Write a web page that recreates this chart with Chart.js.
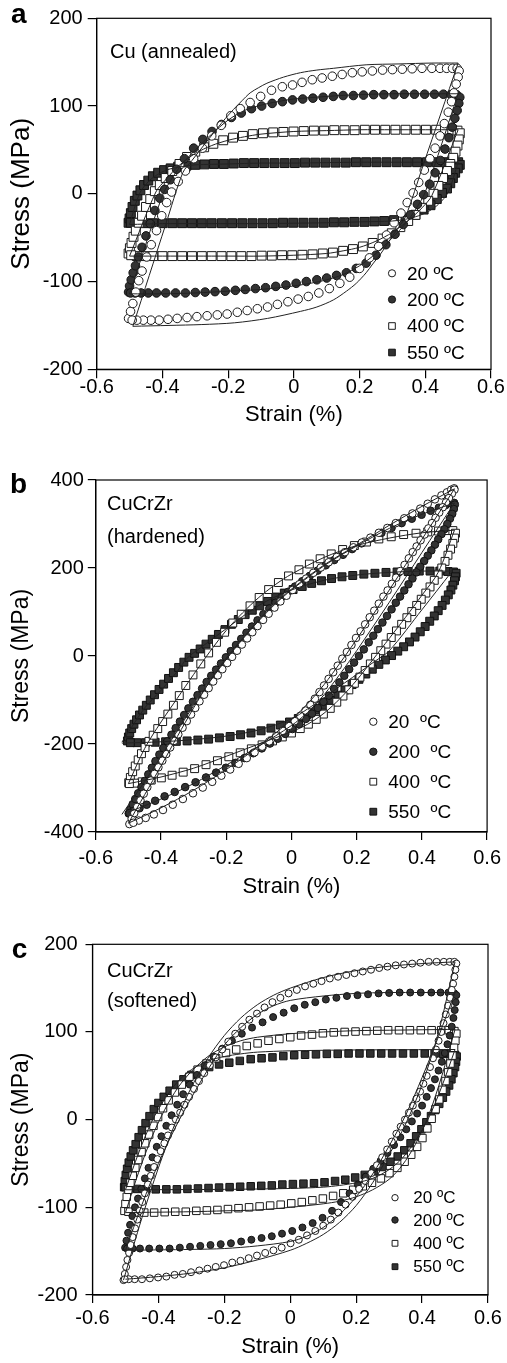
<!DOCTYPE html>
<html>
<head>
<meta charset="utf-8">
<title>Cyclic stress-strain loops</title>
<script src="https://cdn.jsdelivr.net/npm/chart.js@4.4.1/dist/chart.umd.min.js"></script>
<style>
  body { margin: 0; background: #fff; }
  canvas { position: absolute; left: 0; }
</style>
</head>
<body>
<canvas id="chartA"></canvas>
<canvas id="chartB"></canvas>
<canvas id="chartC"></canvas>
<script>
// ---- tick labels and series names ----
var xTickLabels = ['-0.6', '-0.4', '-0.2', '0', '0.2', '0.4', '0.6'];
var aYTickLabels = ['-200', '-100', '0', '100', '200'];
var bYTickLabels = ['-400', '-200', '0', '200', '400'];
var cYTickLabels = ['-200', '-100', '0', '100', '200'];
var tempNames = ['20 ºC', '200 ºC', '400 ºC', '550 ºC'];
var tempNamesB = ['20  ºC', '200  ºC', '400  ºC', '550  ºC'];

// ---- (a) Cu annealed : measured loops [strain %, stress MPa] ----
var aLoop20 = [[-0.503,-142],[-0.497,-134],[-0.49,-125],[-0.481,-112],[-0.472,-99],[-0.462,-88],[-0.448,-72],[-0.434,-58],[-0.418,-42],[-0.402,-25],[-0.387,-10],[-0.372,2],[-0.352,14],[-0.33,26],[-0.305,40],[-0.278,52],[-0.25,66],[-0.221,78],[-0.192,89],[-0.163,97],[-0.133,104],[-0.101,111],[-0.068,118],[-0.035,122],[-0.004,124],[0.025,127],[0.056,130],[0.086,132],[0.117,134],[0.147,136],[0.178,138],[0.208,139],[0.239,140],[0.27,141],[0.3,141.5],[0.33,142],[0.36,142.5],[0.39,143],[0.42,143],[0.445,143],[0.465,143],[0.483,143],[0.497,143],
  [0.503,140],[0.5,133],[0.494,125],[0.487,115],[0.48,105],[0.47,93],[0.458,80],[0.445,66],[0.43,52],[0.414,40],[0.397,27],[0.38,13],[0.363,1],[0.345,-10],[0.326,-22],[0.305,-33],[0.282,-47],[0.258,-60],[0.23,-73],[0.2,-85],[0.17,-95],[0.14,-102],[0.108,-108],[0.076,-113],[0.044,-117],[0.013,-120],[-0.018,-123],[-0.05,-126],[-0.08,-129],[-0.111,-131],[-0.142,-133],[-0.172,-135],[-0.203,-137],[-0.233,-138],[-0.264,-139],[-0.295,-140],[-0.325,-141],[-0.355,-142],[-0.383,-143],[-0.41,-144],[-0.435,-144],[-0.458,-144],[-0.478,-144],[-0.492,-144]];
var aLoop200 = [[-0.503,-112],[-0.5,-105],[-0.495,-98],[-0.489,-90],[-0.482,-82],[-0.473,-72],[-0.462,-61],[-0.45,-48],[-0.437,-34],[-0.423,-19],[-0.408,-5],[-0.393,5],[-0.376,16],[-0.357,28],[-0.333,40],[-0.305,52],[-0.277,62],[-0.249,71],[-0.22,79],[-0.19,87],[-0.16,92],[-0.129,97],[-0.098,100],[-0.066,103],[-0.035,105],[-0.004,107],[0.027,108],[0.058,109],[0.089,110],[0.12,111],[0.15,112],[0.181,112],[0.212,112.5],[0.243,113],[0.274,113],[0.305,113],[0.336,113.5],[0.367,113.5],[0.398,113.5],[0.428,113.5],[0.455,113.5],[0.478,113],[0.495,113],
  [0.505,110],[0.502,103],[0.497,95],[0.49,86],[0.482,76],[0.472,64],[0.46,51],[0.446,38],[0.43,24],[0.413,11],[0.395,-1],[0.376,-12],[0.355,-24],[0.333,-35],[0.308,-46],[0.28,-58],[0.25,-70],[0.22,-79],[0.19,-85],[0.16,-90],[0.13,-93],[0.1,-96],[0.07,-98],[0.038,-100],[0.007,-102],[-0.024,-104],[-0.055,-105.5],[-0.086,-107],[-0.117,-108],[-0.148,-109],[-0.178,-110],[-0.209,-111],[-0.24,-111.5],[-0.27,-112],[-0.3,-112.5],[-0.33,-113],[-0.36,-113],[-0.39,-113],[-0.418,-113],[-0.443,-113],[-0.465,-113],[-0.483,-113],[-0.497,-113]];
var aLoop400 = [[-0.503,-68],[-0.499,-62],[-0.494,-56],[-0.488,-49],[-0.481,-42],[-0.472,-33],[-0.462,-25],[-0.45,-15],[-0.437,-6],[-0.423,3],[-0.408,10],[-0.39,18],[-0.37,26],[-0.348,34],[-0.325,42],[-0.3,48],[-0.273,53],[-0.245,57],[-0.215,61],[-0.185,64],[-0.155,66],[-0.125,68],[-0.094,69],[-0.063,70],[-0.032,70.5],[-0.001,71],[0.03,71.5],[0.061,72],[0.092,72],[0.123,72.5],[0.154,72.5],[0.185,72.5],[0.216,73],[0.247,73],[0.278,73],[0.309,73],[0.34,73],[0.371,73],[0.402,73],[0.433,73],[0.46,73],[0.482,73],[0.498,72],
  [0.505,69],[0.502,62],[0.498,55],[0.492,48],[0.485,41],[0.476,34],[0.466,26],[0.454,18],[0.44,9],[0.425,0],[0.409,-8],[0.39,-16],[0.37,-24],[0.348,-31],[0.324,-38],[0.298,-45],[0.27,-51],[0.24,-56],[0.21,-60],[0.18,-63],[0.15,-65],[0.119,-67],[0.088,-68],[0.057,-69],[0.026,-69.5],[-0.005,-70],[-0.036,-70],[-0.067,-70.5],[-0.098,-70.5],[-0.129,-71],[-0.16,-71],[-0.19,-71],[-0.22,-71],[-0.25,-71],[-0.28,-71],[-0.31,-71],[-0.34,-71],[-0.37,-71],[-0.4,-71],[-0.428,-71],[-0.455,-71],[-0.478,-71],[-0.495,-70]];
var aLoop550 = [[-0.503,-33],[-0.5,-28],[-0.496,-22],[-0.491,-15],[-0.484,-8],[-0.476,-2],[-0.467,4],[-0.456,10],[-0.443,15],[-0.429,20],[-0.413,24],[-0.395,27],[-0.375,29],[-0.352,31],[-0.327,32],[-0.3,33],[-0.272,33.5],[-0.243,34],[-0.213,34],[-0.183,34.5],[-0.152,35],[-0.121,35],[-0.09,35],[-0.059,35],[-0.028,35],[0.003,35],[0.034,35.5],[0.065,35.5],[0.096,35.5],[0.127,35.5],[0.158,35.5],[0.189,36],[0.22,36],[0.251,36],[0.282,36],[0.313,36],[0.344,36],[0.375,36],[0.405,36],[0.435,36],[0.462,36],[0.485,36],[0.5,36],
  [0.505,33],[0.499,29],[0.491,24],[0.484,18],[0.476,12],[0.466,6],[0.451,1],[0.435,-6],[0.416,-13],[0.395,-18],[0.37,-24],[0.34,-28],[0.305,-30],[0.275,-31],[0.245,-31.5],[0.215,-32],[0.184,-32],[0.153,-32.5],[0.122,-32.5],[0.091,-33],[0.06,-33],[0.029,-33],[-0.002,-33],[-0.033,-33],[-0.064,-33.5],[-0.095,-33.5],[-0.126,-33.5],[-0.157,-33.5],[-0.188,-33.5],[-0.219,-33.5],[-0.25,-33.5],[-0.28,-33.5],[-0.31,-33.5],[-0.34,-33.5],[-0.37,-33.5],[-0.4,-33.5],[-0.428,-33.5],[-0.455,-33.5],[-0.478,-33],[-0.496,-33]];

// (a) model curves, loading and unloading branches
var aFit20Up = [[-0.49,-151],[-0.44,-93],[-0.39,-35],[-0.338,24],[-0.31,38],[-0.285,50],[-0.26,62],[-0.234,74],[-0.208,86],[-0.184,96],[-0.158,106],[-0.133,115],[-0.107,121],[-0.082,126],[-0.031,133],[0.02,138],[0.07,141],[0.12,143],[0.22,147],[0.32,148],[0.42,149],[0.5,149]];
var aFit20Dn = [[0.5,149],[0.447,91],[0.393,32],[0.34,-26],[0.315,-40],[0.29,-54],[0.265,-68],[0.24,-80],[0.22,-90],[0.19,-102],[0.16,-111],[0.12,-121],[0.07,-129],[0.02,-134],[-0.08,-142],[-0.18,-147],[-0.28,-149],[-0.38,-150],[-0.49,-151]];
var aFit200Up = [[-0.5,-114],[-0.4,-2],[-0.37,18],[-0.34,34],[-0.3,50],[-0.25,68],[-0.2,84],[-0.15,95],[-0.1,101],[-0.05,105],[0,108],[0.1,111],[0.2,113],[0.3,114],[0.4,114],[0.5,114]];
var aFit200Dn = [[0.5,114],[0.4,2],[0.37,-18],[0.34,-34],[0.3,-50],[0.25,-68],[0.2,-82],[0.15,-92],[0.1,-98],[0.05,-102],[0,-105],[-0.1,-109],[-0.2,-111],[-0.3,-113],[-0.4,-114],[-0.5,-114]];
var aFit400Up = [[-0.5,-71],[-0.42,2],[-0.39,16],[-0.35,32],[-0.3,46],[-0.25,55],[-0.2,61],[-0.15,65],[-0.1,68],[0,71],[0.1,72],[0.2,73],[0.3,73],[0.4,73],[0.5,73]];
var aFit400Dn = [[0.5,73],[0.42,-2],[0.39,-16],[0.35,-30],[0.3,-44],[0.25,-54],[0.2,-61],[0.15,-65],[0.1,-68],[0,-70],[-0.1,-71],[-0.2,-71],[-0.3,-71],[-0.4,-71],[-0.5,-71]];
var aFit550Up = [[-0.5,-35],[-0.47,0],[-0.44,15],[-0.41,23],[-0.38,28],[-0.34,31],[-0.3,33],[-0.2,34],[-0.1,35],[0,35],[0.1,35.5],[0.2,36],[0.3,36],[0.4,36],[0.5,36]];
var aFit550Dn = [[0.5,36],[0.47,2],[0.44,-12],[0.41,-20],[0.38,-25],[0.34,-29],[0.3,-31],[0.2,-32],[0.1,-33],[0,-33.5],[-0.1,-34],[-0.2,-34],[-0.3,-34],[-0.4,-34],[-0.5,-35]];

// ---- (b) CuCrZr hardened : measured loops ----
var bLoop20 = [[-0.497,-382],[-0.49,-370],[-0.482,-357],[-0.473,-343],[-0.463,-328],[-0.453,-313],[-0.442,-298],[-0.431,-283],[-0.42,-268],[-0.408,-253],[-0.396,-238],[-0.384,-223],[-0.372,-208],[-0.36,-193],[-0.347,-178],[-0.334,-163],[-0.321,-148],[-0.308,-133],[-0.295,-118],[-0.282,-103],[-0.268,-88],[-0.254,-73],[-0.24,-58],[-0.226,-44],[-0.212,-30],[-0.197,-16],[-0.182,-2],[-0.167,12],[-0.152,26],[-0.136,40],[-0.12,54],[-0.104,68],[-0.087,82],[-0.07,96],[-0.052,110],[-0.034,124],[-0.015,137],[0.004,150],[0.024,163],[0.045,176],[0.067,189],[0.09,201],[0.114,213],[0.139,225],[0.164,236],[0.19,247],[0.216,258],[0.242,269],[0.268,280],[0.294,291],[0.32,302],[0.346,313],[0.371,324],[0.395,335],[0.418,346],[0.44,356],[0.46,365],[0.477,372],[0.49,378],[0.499,381],
  [0.5,378],[0.492,369],[0.483,359],[0.474,349],[0.464,338],[0.453,326],[0.442,314],[0.431,302],[0.42,290],[0.408,276],[0.396,263],[0.384,249],[0.372,236],[0.36,222],[0.347,207],[0.334,193],[0.321,178],[0.308,164],[0.295,149],[0.282,135],[0.268,119],[0.254,103],[0.24,88],[0.226,72],[0.212,56],[0.198,41],[0.184,25],[0.17,9],[0.156,-6],[0.142,-22],[0.128,-37],[0.114,-52],[0.1,-67],[0.086,-82],[0.072,-97],[0.058,-111],[0.043,-124],[0.027,-136],[0.01,-148],[-0.008,-159],[-0.027,-170],[-0.047,-182],[-0.068,-194],[-0.09,-206],[-0.113,-219],[-0.137,-232],[-0.162,-245],[-0.188,-258],[-0.215,-272],[-0.243,-286],[-0.272,-299],[-0.302,-312],[-0.333,-325],[-0.364,-338],[-0.394,-350],[-0.422,-360],[-0.447,-368],[-0.468,-374],[-0.485,-379]];
var bLoop200 = [[-0.499,-358],[-0.494,-348],[-0.487,-337],[-0.479,-325],[-0.47,-312],[-0.46,-298],[-0.45,-284],[-0.439,-269],[-0.428,-254],[-0.417,-239],[-0.405,-224],[-0.393,-209],[-0.381,-194],[-0.368,-179],[-0.355,-164],[-0.342,-149],[-0.329,-134],[-0.316,-119],[-0.302,-104],[-0.288,-89],[-0.274,-74],[-0.26,-59],[-0.246,-45],[-0.231,-31],[-0.216,-17],[-0.201,-3],[-0.186,11],[-0.17,25],[-0.154,39],[-0.138,53],[-0.121,67],[-0.104,81],[-0.086,95],[-0.068,108],[-0.049,121],[-0.03,134],[-0.01,146],[0.011,158],[0.033,170],[0.056,182],[0.08,194],[0.105,206],[0.131,218],[0.158,230],[0.186,243],[0.215,256],[0.245,268],[0.276,280],[0.307,291],[0.338,302],[0.369,312],[0.399,321],[0.427,330],[0.452,337],[0.473,343],[0.489,347],[0.499,348],
  [0.501,344],[0.498,334],[0.493,323],[0.486,312],[0.478,300],[0.469,288],[0.46,277],[0.45,265],[0.44,253],[0.429,240],[0.418,228],[0.407,216],[0.395,203],[0.383,190],[0.371,176],[0.359,163],[0.346,149],[0.333,135],[0.32,121],[0.307,106],[0.293,91],[0.279,76],[0.265,61],[0.251,46],[0.237,31],[0.222,15],[0.207,0],[0.192,-15],[0.177,-30],[0.162,-45],[0.147,-60],[0.131,-75],[0.115,-90],[0.098,-104],[0.081,-118],[0.063,-131],[0.044,-143],[0.024,-155],[0.003,-166],[-0.019,-177],[-0.042,-188],[-0.066,-199],[-0.091,-210],[-0.117,-221],[-0.144,-232],[-0.172,-243],[-0.201,-254],[-0.231,-265],[-0.262,-276],[-0.294,-287],[-0.326,-298],[-0.358,-309],[-0.389,-319],[-0.418,-329],[-0.444,-338],[-0.466,-346],[-0.484,-352],[-0.497,-357]];
var bLoop400 = [[-0.499,-288],[-0.494,-276],[-0.487,-263],[-0.479,-250],[-0.47,-236],[-0.46,-222],[-0.449,-208],[-0.437,-194],[-0.424,-180],[-0.41,-165],[-0.395,-149],[-0.379,-132],[-0.362,-112],[-0.344,-90],[-0.324,-67],[-0.302,-43],[-0.278,-18],[-0.254,7],[-0.23,31],[-0.205,54],[-0.18,75],[-0.154,95],[-0.127,114],[-0.099,133],[-0.07,151],[-0.04,167],[-0.009,182],[0.023,196],[0.055,209],[0.088,221],[0.122,232],[0.157,242],[0.193,251],[0.23,259],[0.268,266],[0.306,271],[0.344,276],[0.382,279],[0.418,282],[0.451,284],[0.477,285],[0.495,285],
  [0.503,279],[0.5,268],[0.495,256],[0.488,243],[0.48,229],[0.471,215],[0.461,200],[0.45,186],[0.438,172],[0.425,157],[0.412,143],[0.398,129],[0.384,115],[0.369,101],[0.354,87],[0.338,72],[0.322,57],[0.306,42],[0.29,27],[0.274,12],[0.258,-3],[0.242,-18],[0.226,-33],[0.21,-48],[0.193,-62],[0.176,-77],[0.158,-91],[0.139,-105],[0.119,-119],[0.098,-132],[0.076,-144],[0.052,-155],[0.027,-165],[0,-175],[-0.028,-184],[-0.058,-193],[-0.09,-202],[-0.123,-211],[-0.157,-220],[-0.192,-229],[-0.227,-238],[-0.262,-247],[-0.297,-256],[-0.332,-264],[-0.366,-271],[-0.399,-277],[-0.43,-282],[-0.458,-286],[-0.481,-289],[-0.497,-290]];
var bLoop550 = [[-0.503,-193],[-0.5,-184],[-0.496,-175],[-0.49,-165],[-0.483,-155],[-0.475,-145],[-0.466,-134],[-0.456,-123],[-0.445,-112],[-0.433,-100],[-0.42,-88],[-0.406,-76],[-0.392,-64],[-0.377,-51],[-0.362,-38],[-0.346,-26],[-0.33,-14],[-0.314,-3],[-0.297,6],[-0.28,16],[-0.262,27],[-0.243,38],[-0.224,49],[-0.204,60],[-0.184,72],[-0.163,83],[-0.142,94],[-0.12,104],[-0.097,114],[-0.073,124],[-0.048,134],[-0.022,143],[0.005,151],[0.033,158],[0.062,165],[0.092,171],[0.123,176],[0.155,180],[0.188,183],[0.222,186],[0.256,188],[0.29,190],[0.324,191],[0.358,192],[0.392,193],[0.425,193],[0.455,193],[0.48,192],[0.497,191],
  [0.505,188],[0.503,180],[0.5,171],[0.495,161],[0.489,150],[0.481,139],[0.472,127],[0.462,115],[0.45,103],[0.438,91],[0.424,79],[0.41,67],[0.395,55],[0.379,43],[0.362,32],[0.344,21],[0.326,11],[0.307,1],[0.288,-9],[0.268,-19],[0.248,-30],[0.228,-41],[0.207,-53],[0.186,-65],[0.164,-77],[0.142,-89],[0.119,-101],[0.096,-112],[0.072,-123],[0.047,-133],[0.021,-142],[-0.006,-150],[-0.034,-157],[-0.063,-164],[-0.093,-170],[-0.124,-175],[-0.156,-179],[-0.188,-183],[-0.221,-186],[-0.254,-189],[-0.287,-191],[-0.32,-193],[-0.353,-194],[-0.386,-195],[-0.418,-196],[-0.448,-197],[-0.474,-197],[-0.494,-197]];

// (b) model curves
var bFit20Up = [[-0.5,-380],[-0.45,-315],[-0.4,-250],[-0.35,-183],[-0.3,-118],[-0.25,-57],[-0.2,-5],[-0.15,40],[-0.1,82],[-0.05,120],[0,152],[0.1,207],[0.2,252],[0.3,297],[0.4,340],[0.5,380]];
var bFit20Dn = [[0.5,380],[0.4,265],[0.3,150],[0.2,38],[0.15,-15],[0.1,-65],[0.05,-108],[0,-145],[-0.1,-205],[-0.2,-258],[-0.3,-305],[-0.4,-345],[-0.5,-380]];
var bFit200Up = [[-0.52,-360],[-0.45,-285],[-0.4,-228],[-0.35,-170],[-0.3,-113],[-0.25,-58],[-0.2,-8],[-0.15,38],[-0.1,80],[-0.05,118],[0,150],[0.1,205],[0.2,250],[0.3,290],[0.4,322],[0.5,348]];
var bFit200Dn = [[0.5,348],[0.4,235],[0.3,122],[0.2,12],[0.15,-40],[0.1,-88],[0.05,-128],[0,-158],[-0.1,-205],[-0.2,-248],[-0.3,-290],[-0.4,-325],[-0.5,-355]];
var bFit400Up = [[-0.5,-290],[-0.45,-210],[-0.4,-150],[-0.35,-96],[-0.3,-42],[-0.25,10],[-0.2,58],[-0.15,98],[-0.1,133],[-0.05,162],[0,186],[0.1,224],[0.2,251],[0.3,268],[0.4,280],[0.5,286]];
var bFit400Dn = [[0.5,286],[0.45,190],[0.4,138],[0.35,88],[0.3,40],[0.25,-8],[0.2,-55],[0.15,-96],[0.1,-130],[0.05,-155],[0,-172],[-0.1,-200],[-0.2,-228],[-0.3,-255],[-0.4,-275],[-0.5,-290]];
var bFit550Up = [[-0.52,-196],[-0.45,-118],[-0.4,-78],[-0.35,-35],[-0.32,-5],[-0.28,18],[-0.2,62],[-0.1,115],[0,150],[0.1,172],[0.2,184],[0.3,190],[0.4,193],[0.49,193]];
var bFit550Dn = [[0.49,190],[0.4,105],[0.3,12],[0.25,-15],[0.2,-42],[0.15,-68],[0.1,-95],[0.05,-120],[0,-143],[-0.1,-168],[-0.2,-182],[-0.3,-190],[-0.4,-195],[-0.52,-198]];

// ---- (c) CuCrZr softened : measured loops ----
var cLoop20 = [[-0.506,-183],[-0.502,-176],[-0.498,-168],[-0.494,-160],[-0.489,-152],[-0.484,-143],[-0.478,-134],[-0.471,-124],[-0.464,-114],[-0.457,-104],[-0.449,-94],[-0.441,-84],[-0.432,-74],[-0.423,-64],[-0.413,-54],[-0.403,-45],[-0.393,-36],[-0.382,-27],[-0.371,-18],[-0.359,-9],[-0.347,0],[-0.334,8],[-0.321,17],[-0.307,26],[-0.292,35],[-0.277,44],[-0.261,53],[-0.244,62],[-0.226,71],[-0.207,80],[-0.188,89],[-0.167,98],[-0.146,106],[-0.124,114],[-0.101,121],[-0.078,128],[-0.054,134],[-0.03,139],[-0.005,144],[0.02,148],[0.045,152],[0.07,155],[0.095,158],[0.12,161],[0.145,163],[0.17,165],[0.195,167],[0.22,169],[0.245,171],[0.27,173],[0.295,174.5],[0.32,176],[0.345,177],[0.37,178],[0.395,179],[0.42,180],[0.444,180],[0.466,180],[0.484,180],[0.498,180],
  [0.504,178],[0.501,171],[0.498,163],[0.494,155],[0.49,148],[0.485,139],[0.479,130],[0.472,120],[0.465,110],[0.458,100],[0.45,90],[0.442,80],[0.433,70],[0.424,60],[0.414,50],[0.404,41],[0.394,32],[0.383,24],[0.372,16],[0.36,8],[0.348,0],[0.335,-8],[0.322,-16],[0.308,-25],[0.294,-34],[0.279,-43],[0.263,-52],[0.246,-61],[0.228,-70],[0.209,-79],[0.189,-88],[0.168,-97],[0.146,-106],[0.123,-114],[0.1,-121],[0.076,-127],[0.051,-132],[0.026,-137],[0.001,-141],[-0.026,-146],[-0.051,-149],[-0.076,-152],[-0.101,-155],[-0.126,-158],[-0.151,-161],[-0.176,-163],[-0.201,-166],[-0.226,-168],[-0.251,-170],[-0.276,-172],[-0.301,-174],[-0.326,-176],[-0.351,-177],[-0.376,-179],[-0.401,-180],[-0.426,-181],[-0.45,-182],[-0.472,-182],[-0.49,-182],[-0.502,-182]];
var cLoop200 = [[-0.501,-146],[-0.497,-138],[-0.492,-129],[-0.486,-120],[-0.479,-110],[-0.471,-100],[-0.462,-90],[-0.452,-79],[-0.441,-67],[-0.43,-55],[-0.418,-43],[-0.405,-31],[-0.391,-19],[-0.376,-7],[-0.36,5],[-0.343,17],[-0.325,29],[-0.305,40],[-0.283,51],[-0.259,62],[-0.233,72],[-0.206,81],[-0.177,90],[-0.147,98],[-0.116,105],[-0.084,111],[-0.052,117],[-0.02,122],[0.012,127],[0.044,131],[0.076,134],[0.108,137],[0.14,139],[0.172,141],[0.204,142],[0.236,143],[0.268,144],[0.3,144.5],[0.332,145],[0.364,145],[0.396,145],[0.428,145],[0.456,145],[0.48,145],[0.498,144],
  [0.504,142],[0.502,134],[0.499,125],[0.495,116],[0.49,106],[0.484,96],[0.477,86],[0.469,76],[0.46,66],[0.45,56],[0.439,46],[0.427,36],[0.414,26],[0.4,16],[0.385,7],[0.369,-2],[0.352,-11],[0.334,-20],[0.315,-29],[0.295,-38],[0.274,-47],[0.252,-56],[0.229,-65],[0.205,-74],[0.18,-84],[0.154,-94],[0.127,-104],[0.098,-112],[0.068,-118],[0.037,-123],[0.006,-127],[-0.025,-130],[-0.056,-133],[-0.087,-135],[-0.118,-137],[-0.149,-139],[-0.18,-141],[-0.211,-142],[-0.242,-143],[-0.273,-144],[-0.304,-145],[-0.335,-146],[-0.366,-147],[-0.397,-147],[-0.428,-147],[-0.456,-147],[-0.478,-147],[-0.495,-147]];
var cLoop400 = [[-0.503,-104],[-0.5,-96],[-0.496,-88],[-0.491,-80],[-0.485,-72],[-0.478,-64],[-0.47,-55],[-0.461,-46],[-0.451,-37],[-0.44,-27],[-0.428,-17],[-0.415,-7],[-0.401,3],[-0.386,13],[-0.369,22],[-0.35,31],[-0.329,40],[-0.306,49],[-0.281,57],[-0.254,64],[-0.225,70],[-0.195,76],[-0.164,80],[-0.132,84],[-0.099,87],[-0.066,90],[-0.033,92],[0,94],[0.033,96],[0.066,97],[0.099,98.5],[0.132,99.5],[0.165,100],[0.198,100.5],[0.231,101],[0.264,101.5],[0.297,102],[0.33,102],[0.363,102],[0.396,102],[0.429,102],[0.458,102],[0.481,102],[0.498,101],
  [0.504,98],[0.501,90],[0.497,82],[0.492,73],[0.486,64],[0.479,54],[0.471,44],[0.462,34],[0.452,23],[0.441,12],[0.429,1],[0.416,-10],[0.401,-21],[0.385,-31],[0.367,-40],[0.347,-48],[0.325,-55],[0.301,-61],[0.275,-67],[0.248,-72],[0.22,-76],[0.191,-80],[0.161,-84],[0.13,-87],[0.099,-90],[0.067,-92],[0.035,-94],[0.003,-95.5],[-0.029,-97],[-0.061,-98],[-0.093,-99],[-0.125,-100],[-0.157,-101],[-0.189,-102],[-0.221,-103],[-0.253,-103.5],[-0.285,-104],[-0.317,-105],[-0.349,-105],[-0.381,-105.5],[-0.413,-106],[-0.443,-106],[-0.47,-106],[-0.491,-105]];
var cLoop550 = [[-0.504,-77],[-0.502,-70],[-0.499,-63],[-0.495,-56],[-0.49,-49],[-0.484,-42],[-0.477,-35],[-0.469,-28],[-0.46,-20],[-0.45,-12],[-0.439,-4],[-0.427,4],[-0.414,12],[-0.4,19],[-0.384,26],[-0.366,33],[-0.346,40],[-0.324,46],[-0.3,51],[-0.274,56],[-0.246,60],[-0.216,63],[-0.185,65],[-0.153,67],[-0.12,69],[-0.087,70],[-0.054,71],[-0.021,72.5],[0.012,73.5],[0.045,74],[0.078,74.5],[0.111,75],[0.144,75],[0.177,75.5],[0.21,75.5],[0.243,75.5],[0.276,75.5],[0.309,75.5],[0.342,75.5],[0.375,75.5],[0.408,75.5],[0.438,75.5],[0.464,75],[0.485,75],[0.5,74],
  [0.505,72],[0.503,66],[0.5,60],[0.495,53],[0.489,46],[0.482,39],[0.473,32],[0.463,25],[0.452,18],[0.44,11],[0.427,4],[0.413,-3],[0.398,-11],[0.382,-19],[0.365,-27],[0.346,-35],[0.326,-42],[0.304,-48],[0.28,-54],[0.254,-59],[0.226,-63],[0.197,-66],[0.167,-68.5],[0.136,-70],[0.104,-71.5],[0.072,-72.5],[0.04,-73],[0.008,-73.5],[-0.024,-74],[-0.056,-75],[-0.088,-75.5],[-0.12,-76],[-0.152,-76.5],[-0.184,-77],[-0.216,-77.5],[-0.248,-78],[-0.28,-78.5],[-0.312,-79],[-0.344,-79.5],[-0.376,-79.5],[-0.408,-79.5],[-0.438,-79.5],[-0.465,-79],[-0.486,-78],[-0.5,-77]];

// (c) model curves
var cFit20Up = [[-0.506,-183],[-0.45,-112],[-0.4,-55],[-0.35,-5],[-0.3,37],[-0.25,70],[-0.2,96],[-0.15,116],[-0.1,131],[-0.05,142],[0,150],[0.1,162],[0.2,170],[0.3,175],[0.4,178],[0.5,180]];
var cFit20Dn = [[0.5,180],[0.45,100],[0.4,40],[0.35,-5],[0.3,-40],[0.25,-72],[0.2,-98],[0.15,-117],[0.1,-131],[0.05,-141],[0,-149],[-0.1,-160],[-0.2,-169],[-0.3,-175],[-0.4,-179],[-0.5,-182]];
var cFit200Up = [[-0.5,-149],[-0.45,-97],[-0.4,-50],[-0.35,-10],[-0.3,25],[-0.25,57],[-0.2,85],[-0.15,105],[-0.1,120],[-0.05,130],[0,136],[0.1,141],[0.2,144],[0.3,145],[0.4,145],[0.5,145]];
var cFit200Dn = [[0.5,145],[0.45,95],[0.4,48],[0.35,5],[0.3,-30],[0.25,-62],[0.2,-88],[0.15,-108],[0.1,-123],[0.05,-133],[0,-139],[-0.1,-144],[-0.2,-147],[-0.3,-148],[-0.5,-149]];
var cFit400Up = [[-0.5,-106],[-0.46,-60],[-0.42,-20],[-0.38,12],[-0.34,37],[-0.3,55],[-0.25,72],[-0.2,83],[-0.15,90],[-0.1,94],[0,98],[0.1,100],[0.2,101.5],[0.3,102],[0.4,102.5],[0.5,103]];
var cFit400Dn = [[0.5,103],[0.46,50],[0.42,5],[0.38,-28],[0.34,-52],[0.3,-68],[0.25,-80],[0.2,-88],[0.15,-93],[0.1,-96],[0,-100],[-0.1,-103],[-0.2,-104],[-0.3,-105],[-0.5,-106]];
var cFit550Up = [[-0.5,-80],[-0.46,-38],[-0.42,-2],[-0.38,24],[-0.34,44],[-0.3,57],[-0.25,67],[-0.2,72],[-0.15,75],[-0.1,77],[0,78.5],[0.2,79.5],[0.5,80]];
var cFit550Dn = [[0.5,80],[0.46,38],[0.42,2],[0.38,-24],[0.34,-44],[0.3,-57],[0.25,-67],[0.2,-72],[0.15,-75],[0.1,-77],[0,-78.5],[-0.2,-79.5],[-0.5,-80]];

// marker look for 20, 200, 400, 550 C
var markerStyles = [
  { style: 'circle', fill: '#ffffff', stroke: '#1a1a1a' },
  { style: 'circle', fill: '#333333', stroke: '#111111' },
  { style: 'rect', fill: '#ffffff', stroke: '#1a1a1a' },
  { style: 'rect', fill: '#333333', stroke: '#111111' }
];

Chart.defaults.font.family = '"Liberation Sans", Arial, Helvetica, sans-serif';
Chart.defaults.color = '#000';

function drawMarker(ctx, st, x, y, r) {
  ctx.beginPath();
  if (st.style === 'circle') ctx.arc(x, y, r, 0, Math.PI * 2);
  else ctx.rect(x - r, y - r, 2 * r, 2 * r);
  ctx.fillStyle = st.fill;
  ctx.fill();
  ctx.lineWidth = 1;
  ctx.strokeStyle = st.stroke;
  ctx.stroke();
}

// frame, panel letter, notes and legend
var panelDecor = {
  id: 'panelDecor',
  afterDraw: function (chart, args, o) {
    var ctx = chart.ctx, a = chart.chartArea;
    ctx.save();
    ctx.strokeStyle = '#000';
    ctx.lineWidth = 1.2;
    ctx.strokeRect(a.left, a.top, a.right - a.left, a.bottom - a.top);

    ctx.fillStyle = '#000';
    ctx.textBaseline = 'alphabetic';
    ctx.textAlign = 'left';
    ctx.font = 'bold 28px "Liberation Sans", Arial, sans-serif';
    ctx.fillText(o.letter, o.letterX, o.letterY - o.top);

    ctx.font = '20px "Liberation Sans", Arial, sans-serif';
    o.notes.forEach(function (n) { ctx.fillText(n.text, n.x, n.y - o.top); });

    ctx.font = o.legendFont + 'px "Liberation Sans", Arial, sans-serif';
    ctx.textBaseline = 'middle';
    o.legendRows.forEach(function (ry, i) {
      var st = markerStyles[i];
      drawMarker(ctx, st, o.legendX, ry - o.top, st.style === 'circle' ? o.legendR : o.legendR - 0.3);
      ctx.fillStyle = '#000';
      ctx.fillText(o.names[i], o.legendTextX, ry - o.top + 1);
    });
    ctx.restore();
  }
};

function makeChart(p) {
  var canvas = document.getElementById(p.id);
  canvas.width = 507;
  canvas.height = p.height;
  canvas.style.top = p.top + 'px';
  canvas.style.width = '507px';
  canvas.style.height = p.height + 'px';

  var sets = [];
  p.fits.forEach(function (f) {
    sets.push({ data: f, showLine: true, pointRadius: 0, borderColor: '#222', borderWidth: 1,
      tension: 0.3, fill: false, order: 0 });
  });
  p.loops.forEach(function (loop, i) {
    var st = markerStyles[i];
    sets.push({ label: p.names[i], data: loop, showLine: false, pointStyle: st.style,
      pointRadius: st.style === 'circle' ? p.circleR : p.rectR,
      pointBackgroundColor: st.fill, pointBorderColor: st.stroke, pointBorderWidth: 1,
      order: 1 + i });
  });

  new Chart(canvas, {
    type: 'scatter',
    data: { datasets: sets },
    plugins: [panelDecor],
    options: {
      responsive: false,
      animation: false,
      events: [],
      layout: { padding: { left: 0, right: 507 - p.right, top: p.plotTop - p.top, bottom: 0 } },
      plugins: {
        legend: { display: false },
        tooltip: { enabled: false },
        panelDecor: p.decor
      },
      scales: {
        x: {
          type: 'linear', min: -0.6, max: 0.6,
          afterFit: function (s) { s.height = p.top + p.height - p.plotBottom; },
          ticks: { stepSize: 0.2, autoSkip: false, maxRotation: 0, padding: p.xTickPad,
            font: { size: 20 }, color: '#000',
            callback: function (v) { return xTickLabels[Math.round((v + 0.6) / 0.2)]; } },
          grid: { drawOnChartArea: false, drawTicks: true, tickLength: p.xTickLen, color: '#000', lineWidth: 1.2 },
          border: { display: true, color: '#000', width: 1.2 },
          title: { display: true, text: 'Strain (%)', font: { size: 22 }, color: '#000',
            padding: { top: 0, bottom: p.xTitlePad } }
        },
        y: {
          type: 'linear', min: p.yMin, max: p.yMax,
          afterFit: function (s) { s.width = p.left; },
          ticks: { stepSize: p.yStep, autoSkip: false, padding: p.yTickPad, font: { size: 20 }, color: '#000',
            callback: function (v) { return p.yLabels[Math.round((v - p.yMin) / p.yStep)]; } },
          grid: { drawOnChartArea: false, drawTicks: true, tickLength: p.yTickLen, color: '#000', lineWidth: 1.2 },
          border: { display: true, color: '#000', width: 1.2 },
          title: { display: true, text: 'Stress (MPa)', font: { size: p.yTitleSize }, color: '#000',
            padding: { top: p.yTitlePad, bottom: 0 } }
        }
      }
    }
  });
}

makeChart({
  id: 'chartA', top: 0, height: 440, left: 96.7, right: 491, plotTop: 18.3, plotBottom: 369.3,
  yMin: -200, yMax: 200, yStep: 100, yLabels: aYTickLabels,
  xTickLen: 9, xTickPad: -3, yTickLen: 9, yTickPad: 5, xTitlePad: 11.8,
  yTitleSize: 26, yTitlePad: 6.4,
  circleR: 4.3, rectR: 6.3, names: tempNames,
  loops: [aLoop20, aLoop200, aLoop400, aLoop550],
  fits: [aFit20Up, aFit20Dn, aFit200Up, aFit200Dn, aFit400Up, aFit400Dn, aFit550Up, aFit550Dn],
  decor: { top: 0, letter: 'a', letterX: 11, letterY: 23.3,
    notes: [{ text: 'Cu (annealed)', x: 110, y: 58.3 }],
    legendX: 392, legendTextX: 407, legendRows: [273.3, 299.5, 326, 352.5], legendFont: 19, legendR: 3.6,
    names: tempNames }
});

makeChart({
  id: 'chartB', top: 440, height: 460, left: 95.8, right: 490.8, plotTop: 480, plotBottom: 832,
  yMin: -400, yMax: 400, yStep: 200, yLabels: bYTickLabels,
  xTickLen: 8, xTickPad: 6, yTickLen: 8, yTickPad: 4, xTitlePad: 0,
  yTitleSize: 23, yTitlePad: 8.2,
  circleR: 3.8, rectR: 5.6, names: tempNamesB,
  loops: [bLoop20, bLoop200, bLoop400, bLoop550],
  fits: [bFit20Up, bFit20Dn, bFit200Up, bFit200Dn, bFit400Up, bFit400Dn, bFit550Up, bFit550Dn],
  decor: { top: 440, letter: 'b', letterX: 10, letterY: 493.3,
    notes: [{ text: 'CuCrZr', x: 107, y: 510 }, { text: '(hardened)', x: 107, y: 543.3 }],
    legendX: 373.3, legendTextX: 388.3, legendRows: [721.7, 751.7, 781.7, 811.7], legendFont: 19, legendR: 3.7,
    names: tempNamesB }
});

makeChart({
  id: 'chartC', top: 900, height: 463, left: 92.5, right: 488, plotTop: 944.3, plotBottom: 1295,
  yMin: -200, yMax: 200, yStep: 100, yLabels: cYTickLabels,
  xTickLen: 8, xTickPad: 3.3, yTickLen: 7, yTickPad: 8, xTitlePad: 2.8,
  yTitleSize: 23, yTitlePad: 8.2,
  circleR: 3.5, rectR: 5.3, names: tempNames,
  loops: [cLoop20, cLoop200, cLoop400, cLoop550],
  fits: [cFit20Up, cFit20Dn, cFit200Up, cFit200Dn, cFit400Up, cFit400Dn, cFit550Up, cFit550Dn],
  decor: { top: 900, letter: 'c', letterX: 11.7, letterY: 958.3,
    notes: [{ text: 'CuCrZr', x: 107, y: 976.7 }, { text: '(softened)', x: 107, y: 1006.7 }],
    legendX: 395, legendTextX: 413.3, legendRows: [1197.7, 1220, 1243.3, 1266.7], legendFont: 17, legendR: 3.2,
    names: tempNames }
});
</script>
</body>
</html>
